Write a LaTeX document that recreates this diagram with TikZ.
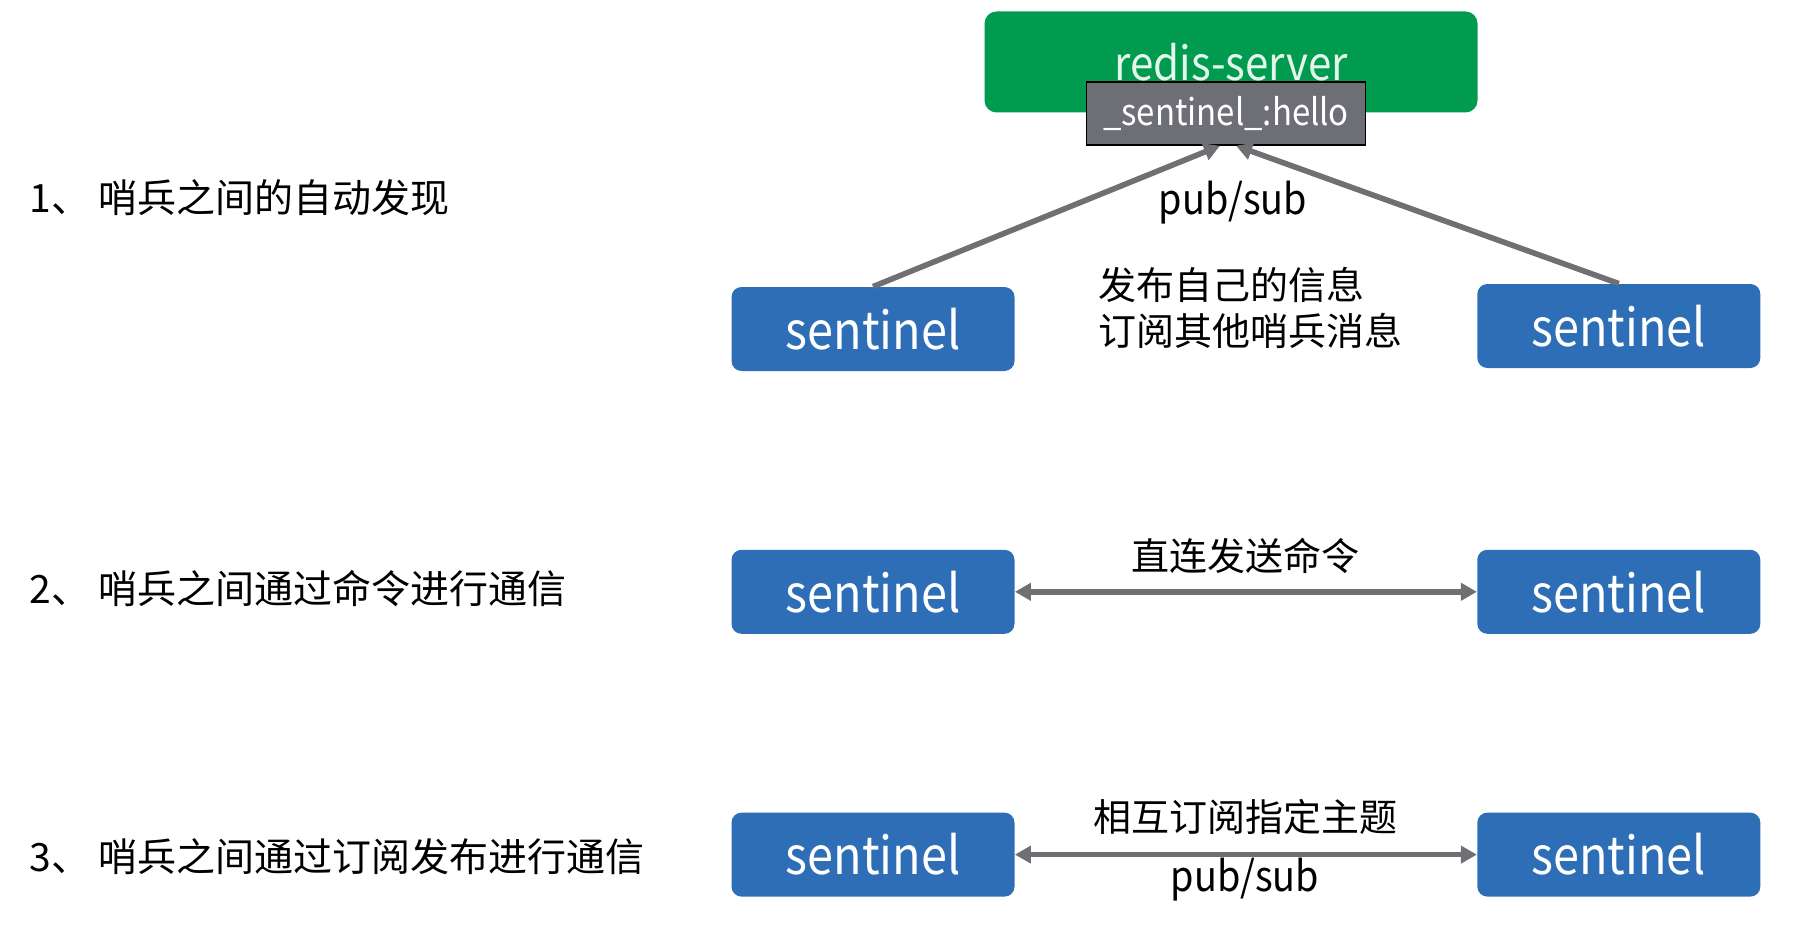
\documentclass[tikz,border=0pt]{standalone}
\usepackage{fontspec}
\setmainfont{Noto Sans CJK SC}
\newfontfamily\latinfont[FakeStretch=0.9]{Noto Sans CJK SC}
\usetikzlibrary{shapes.geometric, arrows.meta, positioning}
\definecolor{serverGreen}{RGB}{0,155,78}
\definecolor{serverText}{RGB}{226,246,234}
\definecolor{sentinelBlue}{RGB}{46,110,182}
\definecolor{topicGray}{RGB}{110,111,118}
\definecolor{linkGray}{RGB}{112,112,116}
\tikzstyle{sentinel} = [rectangle, rounded corners=5pt, minimum width=141.5pt, minimum height=42pt, text centered, fill=sentinelBlue, text=white, font=\latinfont\fontsize{26}{30}\selectfont]
\tikzstyle{server} = [rectangle, rounded corners=6pt, minimum width=246.5pt, minimum height=50.5pt, fill=serverGreen, text=serverText, font=\latinfont\fontsize{23.4}{28}\selectfont]
\tikzstyle{topic} = [rectangle, minimum width=139.5pt, minimum height=31.5pt, draw=black, line width=0.75pt, fill=topicGray, text=white, font=\latinfont\fontsize{18.3}{22}\selectfont]
\tikzstyle{note} = [inner sep=0pt, font=\fontsize{19}{23}\selectfont]
\tikzstyle{stepnote} = [inner sep=0pt, anchor=west, font=\fontsize{19.5}{23}\selectfont]
\tikzstyle{latinnote} = [inner sep=0pt, font=\latinfont\fontsize{21}{25}\selectfont]
\tikzstyle{arrow} = [line width=2.8pt, draw=linkGray, -{Triangle[length=8pt,width=8.5pt]}]
\tikzstyle{biarrow} = [line width=2.8pt, draw=linkGray, {Triangle[length=8pt,width=8.5pt]}-{Triangle[length=8pt,width=8.5pt]}]
\begin{document}
\begin{tikzpicture}[x=0.5pt, y=-0.5pt, node distance=89pt and 231pt]
\useasboundingbox (0,0) rectangle (1808,931);
% Define nodes
\node (s1l) [sentinel] at (873,329) {sentinel};
\node (s1r) [sentinel, right=of s1l, yshift=1.5pt] {sentinel};
\node (s2l) [sentinel, below=of s1l] {sentinel};
\node (s2r) [sentinel, right=of s2l] {sentinel};
\node (s3l) [sentinel, below=of s2l] {sentinel};
\node (s3r) [sentinel, right=of s3l] {sentinel};
\node (server) [server] at (1231,62) {redis-server};
\node (topic) [topic] at (1226,113.5) {\_sentinel\_:hello};
% Texts
\node (step1) [stepnote] at (29,198) {1、 哨兵之间的自动发现};
\node (step2) [stepnote] at (29,589) {2、 哨兵之间通过命令进行通信};
\node (step3) [stepnote] at (29,857) {3、 哨兵之间通过订阅发布进行通信};
\node (pubsub1) [latinnote] at (1233,203) {pub/sub};
\node (info) [note, align=left, anchor=west] at (1098,308) {发布自己的信息\\订阅其他哨兵消息};
\node (cmd) [note] at (1245,556) {直连发送命令};
\node (subnote) [note] at (1245,817) {相互订阅指定主题};
\node (pubsub3) [latinnote] at (1245,880) {pub/sub};
% Connect nodes with arrows
\draw [arrow] (s1l.north) -- ([xshift=-3pt]topic.south);
\draw [arrow] (s1r.north) -- ([xshift=5pt]topic.south);
\draw [biarrow] (s2l) -- (s2r);
\draw [biarrow] (s3l) -- (s3r);
\end{tikzpicture}
\end{document}
